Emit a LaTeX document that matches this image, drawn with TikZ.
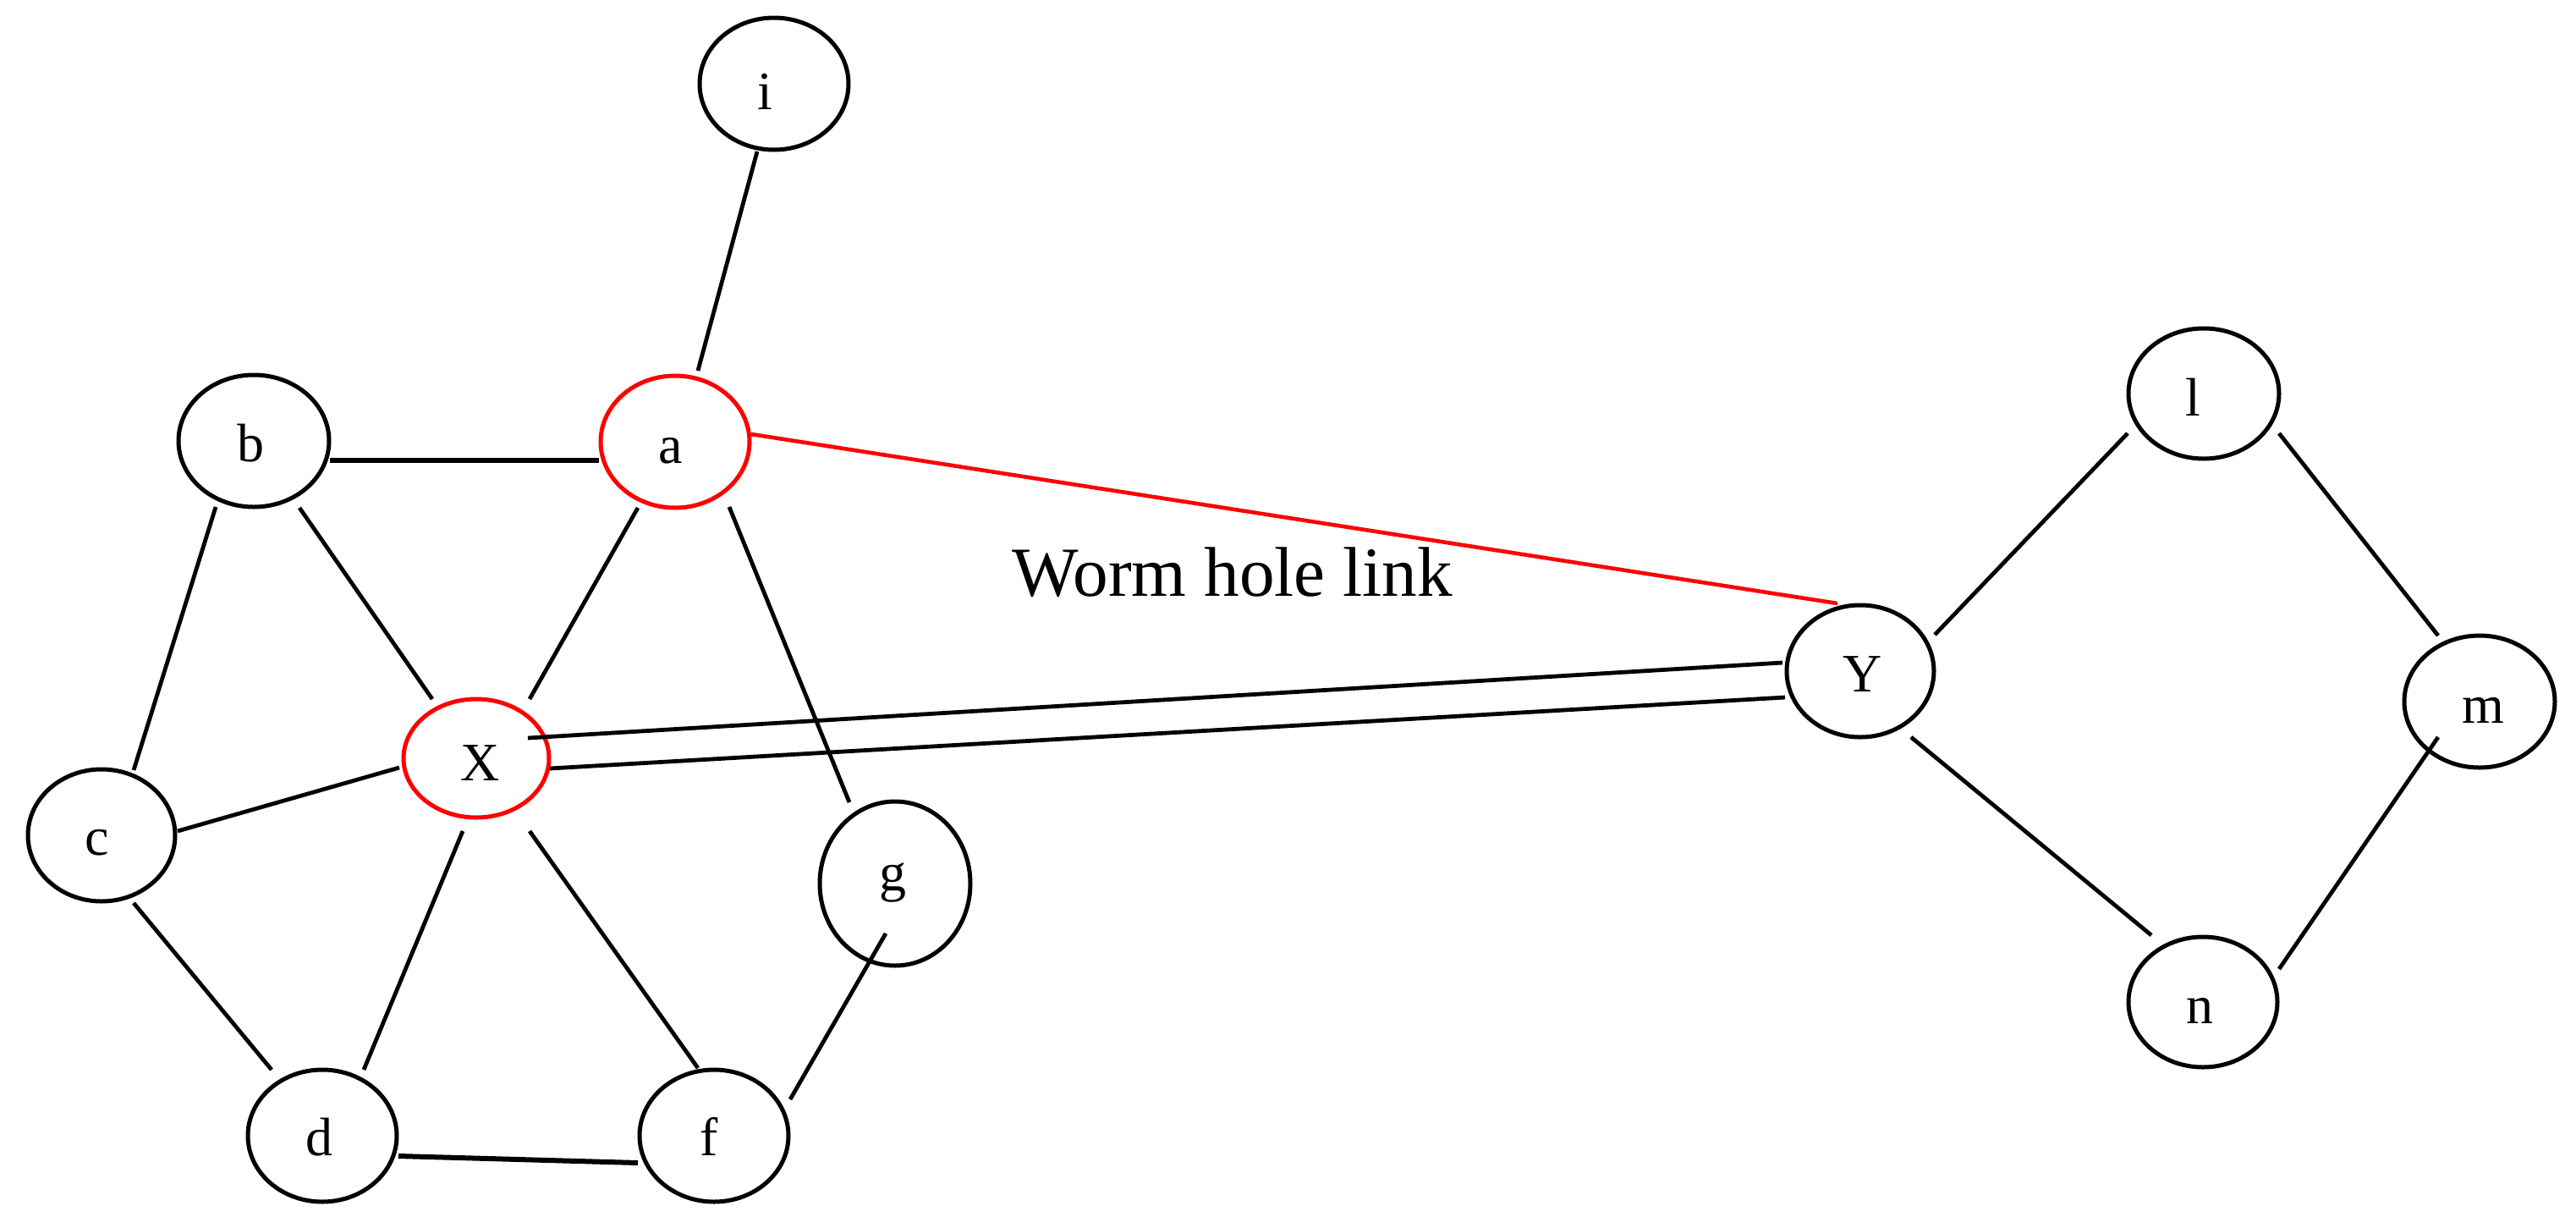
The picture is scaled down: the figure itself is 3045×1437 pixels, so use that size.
\documentclass[tikz,border=0pt]{standalone}
\usepackage{fontspec}
\setmainfont{Liberation Serif}
\usetikzlibrary{shapes.geometric,calc}
\newcommand\nlbl[3]{\makebox[0pt][c]{\hspace*{#1}\hspace*{#1}\raisebox{#2}{#3}}}
\begin{document}
\begin{tikzpicture}[x=0.25pt,y=-0.25pt,
  vtx/.style={ellipse,draw=black,line width=1.25pt,inner sep=0pt,
    text height=0pt,text depth=0pt,font=\fontsize{16}{18}\selectfont},
  hot/.style={vtx,draw=red},
  sz/.style 2 args={minimum width={#1*0.5pt},minimum height={#2*0.5pt}},
  edge/.style={line width=1.2pt,draw=black},
  hedge/.style={line width=1.5pt,draw=black},
  worm/.style={line width=1.15pt,draw=red}]
\useasboundingbox (0,0) rectangle (3045,1437);
\fill[white] (0,0) rectangle (3045,1437);

\node[vtx,sz={88}{78}] (i) at (915,99)   {\nlbl{-2.75pt}{-7.5pt}{i}};
\node[vtx,sz={89}{78}] (b) at (300,521)  {\nlbl{-1pt}{-6pt}{b}};
\node[hot,sz={88}{78}] (a) at (798,522)  {\nlbl{-1.25pt}{-6.25pt}{a}};
\node[hot,sz={86}{70}] (x) at (563,896)  {\nlbl{1.25pt}{-6.5pt}{X}};
\node[vtx,sz={87}{78}] (c) at (120,987)  {\nlbl{-1.25pt}{-5.75pt}{c}};
\node[vtx,sz={89}{97}] (g) at (1058,1044) {\nlbl{-0.75pt}{-2pt}{g}};
\node[vtx,sz={88}{78}] (d) at (381,1342) {\nlbl{-1pt}{-5.75pt}{d}};
\node[vtx,sz={88}{78}] (f) at (844,1342) {\nlbl{-1.5pt}{-5.75pt}{f}};
\node[vtx,sz={89}{77}] (l) at (2605,465) {\nlbl{-3.25pt}{-6.5pt}{l}};
\node[vtx,sz={87}{78}] (Y) at (2199,793) {\nlbl{0.75pt}{-6pt}{Y}};
\node[vtx,sz={89}{78}] (m) at (2931,829) {\nlbl{1pt}{-6.25pt}{m}};
\node[vtx,sz={88}{77}] (n) at (2604,1184) {\nlbl{-1pt}{-6.25pt}{n}};

\node[anchor=base west,inner sep=0pt,font=\fontsize{20.8}{25}\selectfont] (wl) at (1196,704) {Worm hole link};

\draw[edge] ($(i)+(-20,80)$) -- ($(a)+(27,-84)$);
\draw[hedge] ($(b)+(90,23)$) -- ($(a)+(-90,22)$);
\draw[edge] ($(b)+(-45,78)$) -- ($(c)+(38,-77)$);
\draw[edge] ($(b)+(54,79)$) -- ($(x)+(-52,-70)$);
\draw[edge] ($(a)+(-44,78)$) -- ($(x)+(63,-70)$);
\draw[edge] ($(a)+(64,77)$) -- ($(g)+(-54,-96)$);
\draw[worm] ($(a)+(90,-9)$) -- ($(Y)+(-27,-80)$);
\draw[edge] ($(c)+(90,-5)$) -- ($(x)+(-91,11)$);
\draw[edge] ($(x)+(61,-24)$) -- ($(Y)+(-92,-10)$);
\draw[edge] ($(x)+(87,12)$) -- ($(Y)+(-89,31)$);
\draw[edge] ($(c)+(38,80)$) -- ($(d)+(-60,-78)$);
\draw[edge] ($(x)+(-16,86)$) -- ($(d)+(49,-78)$);
\draw[edge] ($(x)+(63,86)$) -- ($(f)+(-19,-80)$);
\draw[hedge] ($(d)+(90,24)$) -- ($(f)+(-90,32)$);
\draw[edge] ($(g)+(-11,59)$) -- ($(f)+(90,-43)$);
\draw[edge] ($(Y)+(88,-43)$) -- ($(l)+(-90,47)$);
\draw[edge] ($(l)+(89,47)$) -- ($(m)+(-49,-78)$);
\draw[edge] ($(Y)+(60,78)$) -- ($(n)+(-61,-79)$);
\draw[edge] ($(n)+(90,-39)$) -- ($(m)+(-49,42)$);
\end{tikzpicture}
\end{document}
